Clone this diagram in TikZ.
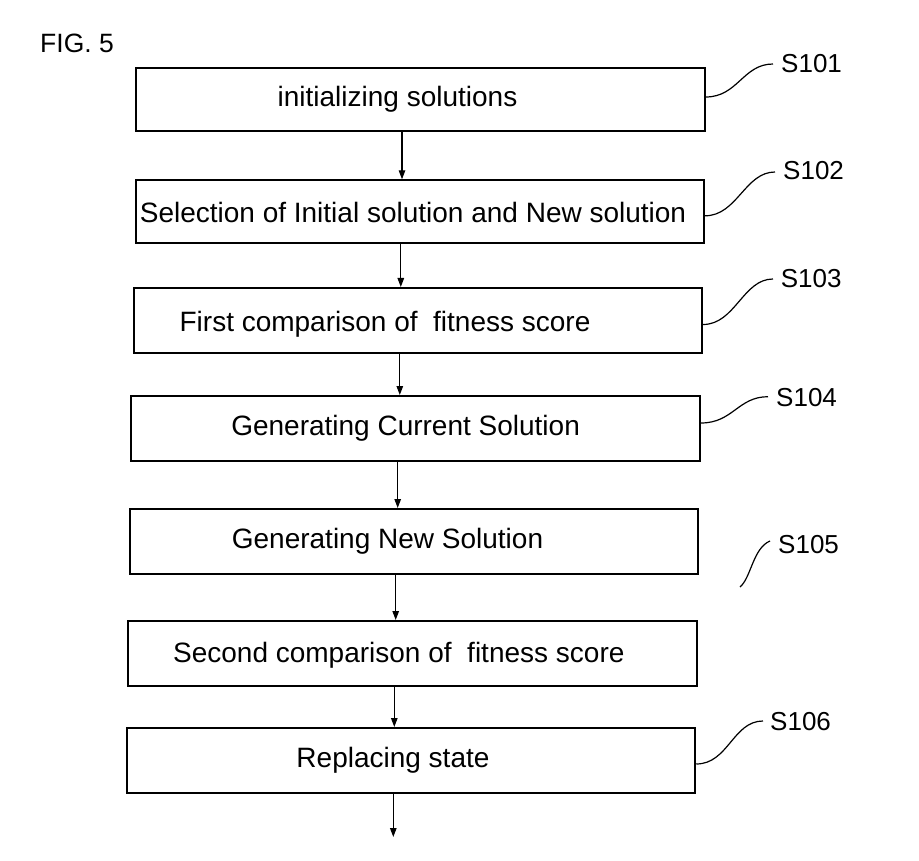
\documentclass[tikz,border=0pt]{standalone}
\usepackage{fontspec}
\setmainfont{Liberation Sans}
\usetikzlibrary{arrows.meta}
\begin{document}
\begin{tikzpicture}[x=1pt,y=-1pt,
  stepbox/.style={draw=black,line width=2pt,rectangle,minimum width=568.5pt,inner sep=0pt},
  boxtext/.style={anchor=base,inner sep=0pt,font=\fontsize{28}{30}\selectfont},
  steplabel/.style={anchor=base west,inner sep=0pt,font=\fontsize{26}{28}\selectfont},
  arr/.style={line width=1.2pt,-{Triangle[length=9pt,width=6.5pt]}},
  lead/.style={line width=1.2pt}]
\useasboundingbox (0,0) rectangle (919,861);
\fill[white] (0,0) rectangle (919,861);
\node[anchor=base west,inner sep=0pt,font=\fontsize{26.5}{28}\selectfont] (fig) at (40,53) {FIG. 5};
% boxes
\node[stepbox,minimum height=63pt] (b1) at (420.5,99.5) {};
\node[stepbox,minimum height=63pt] (b2) at (419.8,211.8) {};
\node[stepbox,minimum height=65pt] (b3) at (417.8,320.5) {};
\node[stepbox,minimum height=65pt] (b4) at (415.7,428.5) {};
\node[stepbox,minimum height=65pt] (b5) at (414.2,541.5) {};
\node[stepbox,minimum height=65pt] (b6) at (412.6,653.5) {};
\node[stepbox,minimum height=65pt] (b7) at (411,760.5) {};
% texts
\node[boxtext] (t1) at (397.5,106.5) {initializing solutions};
\node[boxtext] (t2) at (413,223) {Selection of Initial solution and New solution};
\node[boxtext] (t3) at (385,331) {First comparison of\ \ fitness score};
\node[boxtext] (t4) at (405.6,435) {Generating Current Solution};
\node[boxtext] (t5) at (387.5,548) {Generating New Solution};
\node[boxtext] (t6) at (398.8,662) {Second comparison of\ \ fitness score};
\node[boxtext] (t7) at (393,767) {Replacing state};
% labels
\node[steplabel] (l1) at (781,73) {S101};
\node[steplabel] (l2) at (783,180) {S102};
\node[steplabel] (l3) at (780.7,288) {S103};
\node[steplabel] (l4) at (776,406.7) {S104};
\node[steplabel] (l5) at (778,553) {S105};
\node[steplabel] (l6) at (770,730) {S106};
% arrows
\draw[arr] ([xshift=-18.5pt]b1.south) -- ([xshift=-18.5pt]b1.south |- b2.north);
\draw[arr] ([xshift=-19pt]b2.south) -- ([xshift=-19pt]b2.south |- b3.north);
\draw[arr] ([xshift=-18pt]b3.south) -- ([xshift=-18pt]b3.south |- b4.north);
\draw[arr] ([xshift=-18pt]b4.south) -- ([xshift=-18pt]b4.south |- b5.north);
\draw[arr] ([xshift=-18.5pt]b5.south) -- ([xshift=-18.5pt]b5.south |- b6.north);
\draw[arr] ([xshift=-18.3pt]b6.south) -- ([xshift=-18.3pt]b6.south |- b7.north);
\coordinate (end) at (393.3,837);
\draw[arr] ([xshift=-17.7pt]b7.south) -- (end);
% leader curves
\draw[lead] ([yshift=2.5pt]b1.east) .. controls +(32,0) and +(-30,0) .. ([shift={(-8,-9)}]l1.base west);
\draw[lead] ([yshift=-4pt]b2.east) .. controls +(32,0) and +(-30,0) .. ([shift={(-8,-8)}]l2.base west);
\draw[lead] ([yshift=-4pt]b3.east) .. controls +(32,0) and +(-30,0) .. ([shift={(-7.7,-9)}]l3.base west);
\draw[lead] ([yshift=5.5pt]b4.east) .. controls +(32,0) and +(-30,0) .. ([shift={(-8,-10)}]l4.base west);
\coordinate (c5) at (740,587);
\draw[lead] (c5) .. controls (751,578) and (753,548) .. ([shift={(-8,-12)}]l5.base west);
\draw[lead] ([yshift=-3.5pt]b7.east) .. controls +(32,0) and +(-30,0) .. ([shift={(-7,-9)}]l6.base west);
\end{tikzpicture}
\end{document}
